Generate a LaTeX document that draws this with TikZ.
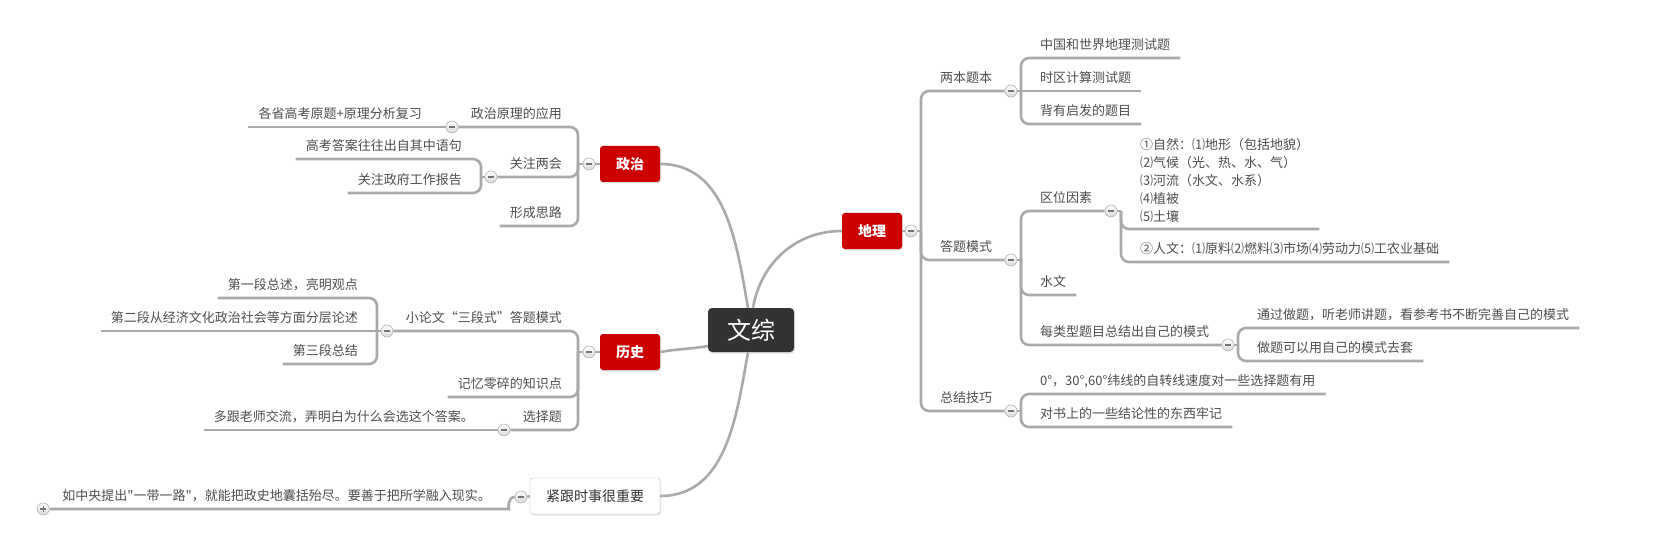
\documentclass[tikz,border=0pt]{standalone}
\usepackage{fontspec}
\setmainfont{Noto Sans CJK SC}
\newfontfamily\pryamyi{Noto Sans CJK SC}
\usetikzlibrary{shadows}

\definecolor{liniia}{HTML}{A9A9A9}
\definecolor{tekst}{HTML}{4D4D4D}
\definecolor{chervonyi}{HTML}{CC0000}
\definecolor{temnyi}{HTML}{333333}

\begin{document}
\begin{tikzpicture}[x=1pt,y=1pt,
    hilka/.style={draw=liniia, line width=2.6pt, rounded corners=8pt},
    tema/.style={inner xsep=10pt, inner ysep=5pt, text height=10pt, text depth=3pt,
      text=tekst, font=\fontsize{13}{18}\selectfont},
    temablok/.style={inner xsep=10pt, inner ysep=6.5pt, align=left,
      text=tekst, font=\fontsize{13}{18}\selectfont},
    tsentr/.style={rounded corners=4pt, fill=temnyi, text=white, minimum width=86pt,
      minimum height=44pt, font=\fontsize{24}{24}\selectfont,
      drop shadow={opacity=0.25, shadow xshift=1pt, shadow yshift=-1.5pt}},
    holovna/.style={rounded corners=3pt, fill=chervonyi, text=white, minimum width=60pt,
      minimum height=36pt, font=\fontsize{14}{14}\selectfont\bfseries,
      drop shadow={opacity=0.25, shadow xshift=1pt, shadow yshift=-1.5pt}},
    bila/.style={rounded corners=3pt, draw=black!25, fill=white, text=black!80,
      minimum width=130pt, minimum height=36pt, font=\fontsize{14}{14}\selectfont,
      drop shadow={opacity=0.2, shadow xshift=1pt, shadow yshift=-1.5pt}},
    zgort/.style={circle, draw=black!30, line width=0.6pt, top color=white,
      bottom color=black!15, minimum size=12pt, inner sep=0pt,
      path picture={\draw[black!55, line width=1.6pt]
        ([xshift=3pt]path picture bounding box.west) -- ([xshift=-3pt]path picture bounding box.east);}},
    rozgort/.style={circle, draw=black!30, line width=0.6pt, top color=white,
      bottom color=black!15, minimum size=12pt, inner sep=0pt,
      path picture={\draw[black!55, line width=1.4pt]
        ([xshift=3pt]path picture bounding box.west) -- ([xshift=-3pt]path picture bounding box.east)
        ([yshift=-3pt]path picture bounding box.north) -- ([yshift=3pt]path picture bounding box.south);}}]

        \useasboundingbox (0,0) rectangle (1673,-548);

        % центральна тема і головні гілки
        \node[tsentr] (Z) at (751,-330) {文综};
        \node[holovna] (G) at (872,-231) {地理};
        \node[holovna] (P) at (630,-164) {政治};
        \node[holovna] (H) at (630,-352) {历史};
        \node[bila] (S) at (595,-496) {紧跟时事很重要};

        \draw[hilka] ([xshift=2pt]Z.north) to[out=80,in=180] (G.west);
        \draw[hilka] (P.east) to[out=0,in=100] ([xshift=-3pt]Z.north);
        \draw[hilka] (H.east) to[out=10,in=190] ([yshift=-16pt]Z.west);
        \draw[hilka] ([xshift=-3pt]Z.south) to[out=-100,in=0] (S.east);

        % гілка 地理
        \node[zgort] (mG) at (911,-231) {};
        \coordinate (kG) at (921,-231);
        \draw[hilka] (G.east) -- (mG.west);
        \draw[hilka] (mG.east) -- (kG);

        \node[tema, anchor=south west] (G1) at (930,-91) {两本题本};
        \node[zgort] (mG1) at (1011,-91) {};
        \coordinate (kG1) at (1021,-91);
        \draw[hilka] (kG) |- (mG1.west);
        \draw[hilka] (mG1.east) -- (kG1);
        \node[tema, anchor=south west] (G11) at (1030,-58) {中国和世界地理测试题};
        \node[tema, anchor=south west] (G12) at (1030,-91) {时区计算测试题};
        \node[tema, anchor=south west] (G13) at (1030,-124) {背有启发的题目};
        \draw[hilka] (kG1) |- (G11.south east);
        \draw[hilka] (kG1) -- (G12.south east);
        \draw[hilka] (kG1) |- (G13.south east);

        \node[tema, anchor=south west] (G2) at (930,-260) {答题模式};
        \node[zgort] (mG2) at (1011,-260) {};
        \coordinate (kG2) at (1021,-260);
        \draw[hilka] (kG) |- (mG2.west);
        \draw[hilka] (mG2.east) -- (kG2);
        \node[tema, anchor=south west] (G21) at (1030,-211) {区位因素};
        \node[zgort] (mG21) at (1111,-211) {};
        \coordinate (kG21) at (1121,-211);
        \draw[hilka] (kG2) |- (mG21.west);
        \draw[hilka] (mG21.east) -- (kG21);
        \node[temablok, anchor=south west] (G211) at (1130,-229)
          {①自然：⑴地形（包括地貌）\\⑵气候（光、热、水、气）\\⑶河流（水文、水系）\\⑷植被\\⑸土壤};
        \node[tema, anchor=south west] (G212) at (1130,-262) {②人文：⑴原料⑵燃料⑶市场⑷劳动力⑸工农业基础};
        \draw[hilka] (kG21) |- (G211.south east);
        \draw[hilka] (kG21) |- (G212.south east);
        \node[tema, anchor=south west] (G22) at (1030,-295) {水文};
        \draw[hilka] (kG2) |- (G22.south east);
        \node[tema, anchor=south west] (G23) at (1030,-345) {每类型题目总结出自己的模式};
        \node[zgort] (mG23) at (1228,-345) {};
        \coordinate (kG23) at (1238,-345);
        \draw[hilka] (kG2) |- (mG23.west);
        \draw[hilka] (mG23.east) -- (kG23);
        \node[tema, anchor=south west] (G231) at (1247,-328) {通过做题，听老师讲题，看参考书不断完善自己的模式};
        \node[tema, anchor=south west] (G232) at (1247,-361) {做题可以用自己的模式去套};
        \draw[hilka] (kG23) |- (G231.south east);
        \draw[hilka] (kG23) |- (G232.south east);

        \node[tema, anchor=south west] (G3) at (930,-411) {总结技巧};
        \node[zgort] (mG3) at (1011,-411) {};
        \coordinate (kG3) at (1021,-411);
        \draw[hilka] (kG) |- (mG3.west);
        \draw[hilka] (mG3.east) -- (kG3);
        \node[tema, anchor=south west] (G31) at (1030,-394) {0°，30°,60°纬线的自转线速度对一些选择题有用};
        \node[tema, anchor=south west] (G32) at (1030,-427) {对书上的一些结论性的东西牢记};
        \draw[hilka] (kG3) |- (G31.south east);
        \draw[hilka] (kG3) |- (G32.south east);

        % гілка 政治
        \node[zgort] (mP) at (589,-164) {};
        \coordinate (kP) at (578,-164);
        \draw[hilka] (P.west) -- (mP.east);
        \draw[hilka] (mP.west) -- (kP);

        \node[tema, anchor=south east] (P1) at (572,-127) {政治原理的应用};
        \node[zgort] (mP1) at (452,-127) {};
        \draw[hilka] (kP) |- (mP1.east);
        \node[tema, anchor=south east] (P11) at (432,-127) {各省高考原题+原理分析复习};
        \draw[hilka] (mP1.west) -- (P11.south west);

        \node[tema, anchor=south east] (P2) at (572,-177) {关注两会};
        \node[zgort] (mP2) at (491,-177) {};
        \coordinate (kP2) at (481,-177);
        \draw[hilka] (kP) |- (mP2.east);
        \draw[hilka] (mP2.west) -- (kP2);
        \node[tema, anchor=south east] (P21) at (472,-159) {高考答案往往出自其中语句};
        \node[tema, anchor=south east] (P22) at (472,-193) {关注政府工作报告};
        \draw[hilka] (kP2) |- (P21.south west);
        \draw[hilka] (kP2) |- (P22.south west);

        \node[tema, anchor=south east] (P3) at (572,-226) {形成思路};
        \draw[hilka] (kP) |- (P3.south west);

        % гілка 历史
        \node[zgort] (mH) at (589,-352) {};
        \coordinate (kH) at (578,-352);
        \draw[hilka] (H.west) -- (mH.east);
        \draw[hilka] (mH.west) -- (kH);

        \node[tema, anchor=south east] (H1) at (572,-331) {小论文“三段式”答题模式};
        \node[zgort] (mH1) at (387,-331) {};
        \coordinate (kH1) at (377,-331);
        \draw[hilka] (kH) |- (mH1.east);
        \draw[hilka] (mH1.west) -- (kH1);
        \node[tema, anchor=south east] (H11) at (368,-298) {第一段总述，亮明观点};
        \node[tema, anchor=south east] (H12) at (368,-331) {第二段从经济文化政治社会等方面分层论述};
        \node[tema, anchor=south east] (H13) at (368,-364) {第三段总结};
        \draw[hilka] (kH1) |- (H11.south west);
        \draw[hilka] (kH1) -- (H12.south west);
        \draw[hilka] (kH1) |- (H13.south west);

        \node[tema, anchor=south east] (H2) at (572,-397) {记忆零碎的知识点};
        \draw[hilka] (kH) |- (H2.south west);

        \node[tema, anchor=south east] (H3) at (572,-430) {选择题};
        \node[zgort] (mH3) at (504,-430) {};
        \draw[hilka] (kH) |- (mH3.east);
        \node[tema, anchor=south east] (H31) at (484,-430) {多跟老师交流，弄明白为什么会选这个答案。};
        \draw[hilka] (mH3.west) -- (H31.south west);

        % гілка 紧跟时事很重要
        \node[zgort] (mS) at (521,-497) {};
        \draw[hilka] (S.west) -- (mS.east);
        \node[tema, anchor=south east] (S1) at (501,-509) {如中央提出{\pryamyi"}一带一路{\pryamyi"}，就能把政史地囊括殆尽。要善于把所学融入现实。};
        \node[rozgort] (pS) at ([xshift=-9pt]S1.south west) {};
        \draw[hilka] (mS.west) to[out=180,in=0] (S1.south east) -- (pS.east);
    \end{tikzpicture}
\end{document}
